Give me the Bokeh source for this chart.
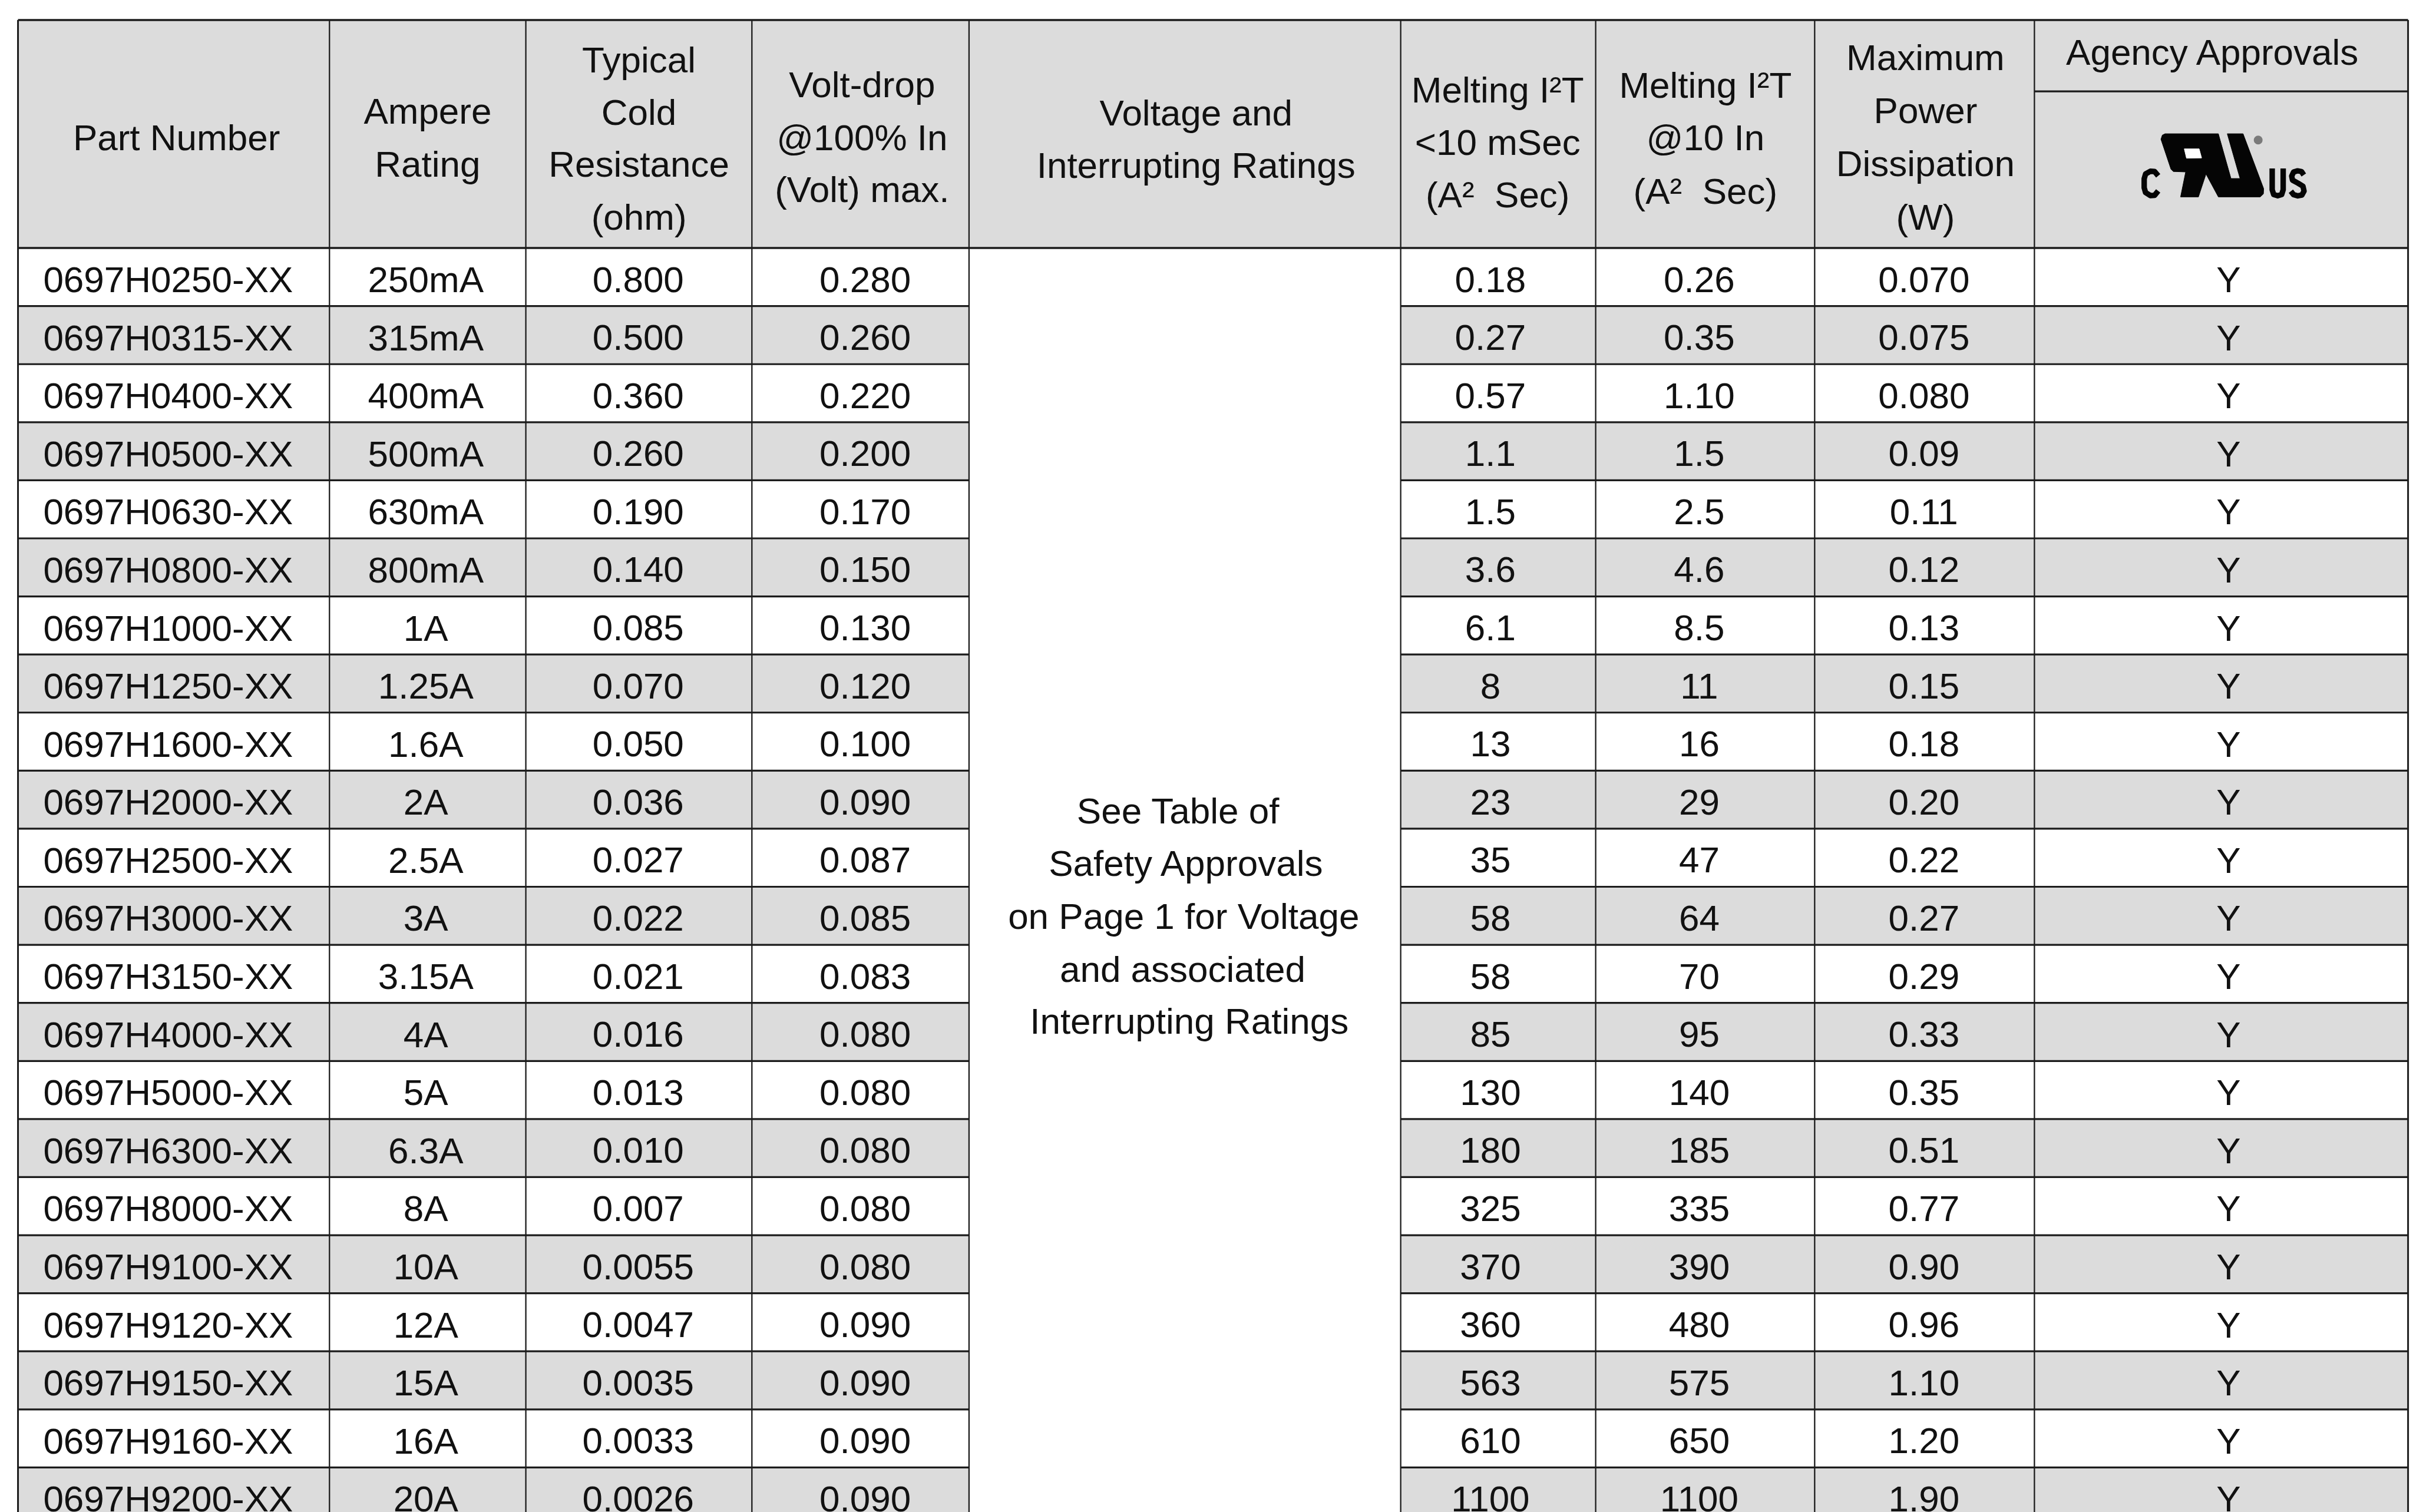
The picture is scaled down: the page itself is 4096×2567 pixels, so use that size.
import numpy as np
from bokeh.plotting import figure
from bokeh.models import Range1d, ColumnDataSource
from bokeh.core.properties import value
from bokeh.embed import file_html
from bokeh.resources import INLINE

# ---------------- data ----------------
part_numbers = ["0697H0250-XX", "0697H0315-XX", "0697H0400-XX", "0697H0500-XX",
                "0697H0630-XX", "0697H0800-XX", "0697H1000-XX", "0697H1250-XX",
                "0697H1600-XX", "0697H2000-XX", "0697H2500-XX", "0697H3000-XX",
                "0697H3150-XX", "0697H4000-XX", "0697H5000-XX", "0697H6300-XX",
                "0697H8000-XX", "0697H9100-XX", "0697H9120-XX", "0697H9150-XX",
                "0697H9160-XX", "0697H9200-XX"]
ampere_ratings = ["250mA", "315mA", "400mA", "500mA", "630mA", "800mA", "1A", "1.25A",
                  "1.6A", "2A", "2.5A", "3A", "3.15A", "4A", "5A", "6.3A", "8A", "10A",
                  "12A", "15A", "16A", "20A"]
cold_resistance = ["0.800", "0.500", "0.360", "0.260", "0.190", "0.140", "0.085", "0.070",
                   "0.050", "0.036", "0.027", "0.022", "0.021", "0.016", "0.013", "0.010",
                   "0.007", "0.0055", "0.0047", "0.0035", "0.0033", "0.0026"]
volt_drop = ["0.280", "0.260", "0.220", "0.200", "0.170", "0.150", "0.130", "0.120",
             "0.100", "0.090", "0.087", "0.085", "0.083", "0.080", "0.080", "0.080",
             "0.080", "0.080", "0.090", "0.090", "0.090", "0.090"]
melting_10ms = ["0.18", "0.27", "0.57", "1.1", "1.5", "3.6", "6.1", "8", "13", "23", "35",
                "58", "58", "85", "130", "180", "325", "370", "360", "563", "610", "1100"]
melting_10in = ["0.26", "0.35", "1.10", "1.5", "2.5", "4.6", "8.5", "11", "16", "29", "47",
                "64", "70", "95", "140", "185", "335", "390", "480", "575", "650", "1100"]
max_power = ["0.070", "0.075", "0.080", "0.09", "0.11", "0.12", "0.13", "0.15", "0.18",
             "0.20", "0.22", "0.27", "0.29", "0.33", "0.35", "0.51", "0.77", "0.90",
             "0.96", "1.10", "1.20", "1.90"]
agency = ["Y"] * 22

header_labels = [
    ["Part Number"],
    ["Ampere", "Rating"],
    ["Typical", "Cold", "Resistance", "(ohm)"],
    ["Volt-drop", "@100% In", "(Volt) max."],
    ["Voltage and", "Interrupting Ratings"],
    ["Melting I\u00b2T", "<10 mSec", "(A\u00b2 \u00a0Sec)"],
    ["Melting I\u00b2T", "@10 In", "(A\u00b2 \u00a0Sec)"],
    ["Maximum", "Power", "Dissipation", "(W)"],
    ["Agency Approvals"],
]
voltage_note = ["See Table of", "Safety Approvals", "on Page 1 for Voltage",
                "and associated", "Interrupting Ratings"]

# ---------------- layout (in reference-view units) ----------------
S = 4096 / 1568.0
W, H = 4096, 2567
FONT = value("Liberation Sans")
FS = "62px"
TXT = "#111111"
GRAY = "#dcdcdc"
LINE = "#1c1c1c"
CAP_HALF = 8.7   # half cap-height, in view units

col_edges = [11.5, 213.9, 341.5, 488.4, 629.5, 910.0, 1036.7, 1179.0, 1321.8, 1564.6]
TOP, HEAD_BOT, SUB_Y, ROW_H = 12.8, 161.0, 59.2, 37.74
LEFT, RIGHT = col_edges[0], col_edges[-1]
VL, VR = col_edges[4], col_edges[5]

p = figure(width=W, height=H,
           x_range=Range1d(0, W / S),
           y_range=Range1d(H / S, 0),
           output_backend="svg", toolbar_location=None, min_border=0,
           x_axis_location=None, y_axis_location=None,
           background_fill_color="white", border_fill_color="white")
p.grid.visible = False
p.outline_line_color = None

n = len(part_numbers)
idx = np.arange(n)
row_top = HEAD_BOT + ROW_H * idx
row_bot = row_top + ROW_H
odd = idx % 2 == 1

# header background
p.quad(left=[LEFT], right=[RIGHT], top=[TOP], bottom=[HEAD_BOT],
       fill_color=GRAY, line_color=None)
# shaded rows (not through the merged voltage cell)
for l, r in [(LEFT, VL), (VR, RIGHT)]:
    p.quad(left=[l] * int(odd.sum()), right=[r] * int(odd.sum()),
           top=list(row_top[odd]), bottom=list(row_bot[odd]),
           fill_color=GRAY, line_color=None)

# horizontal lines
bottom_all = HEAD_BOT + ROW_H * n
p.segment(x0=[LEFT, LEFT, col_edges[8]], x1=[RIGHT, RIGHT, RIGHT],
          y0=[TOP, HEAD_BOT, SUB_Y], y1=[TOP, HEAD_BOT, SUB_Y],
          line_color=LINE, line_width=3.4)
ys = list(row_bot)
p.segment(x0=[LEFT] * n + [VR] * n, x1=[VL] * n + [RIGHT] * n,
          y0=ys + ys, y1=ys + ys, line_color=LINE, line_width=3.2)
# vertical lines
inner = col_edges[1:-1]
p.segment(x0=inner, x1=inner, y0=[TOP] * len(inner), y1=[bottom_all] * len(inner),
          line_color=LINE, line_width=2.3)
p.segment(x0=[LEFT, RIGHT], x1=[LEFT, RIGHT], y0=[TOP, TOP], y1=[bottom_all] * 2,
          line_color=LINE, line_width=3.0)

# header texts (baselines from the reference; drawn by cap centre)
head_x = [114.5, 277.7, 415.0, 560.0, 777.0, 973.0, 1108.0, 1251.0, 1438.0]
head_base = [[98.0], [80.7, 115.3], [47.2, 81.4, 115.3, 149.4], [63.4, 98.0, 131.5],
             [81.9, 116.0], [66.9, 101.0, 135.0], [63.9, 98.0, 132.7],
             [46.0, 80.1, 114.7, 149.4], [42.4]]
hx, hy, ht = [], [], []
for lines, x, bases in zip(header_labels, head_x, head_base):
    for t, b in zip(lines, bases):
        hx.append(x); hy.append(b - CAP_HALF); ht.append(t)
p.text(x=hx, y=hy, text=ht, text_align="center", text_baseline="alphabetic",
       text_font=FONT, text_font_size=FS, text_color=TXT)

# merged voltage note
note_x = [765.5, 771.0, 769.0, 768.3, 772.6]
note_base = [535.5, 569.5, 603.8, 638.3, 672.0]
p.text(x=note_x, y=[b - CAP_HALF for b in note_base], text=voltage_note,
       text_align="center", text_baseline="alphabetic", text_font=FONT,
       text_font_size=FS, text_color=TXT)

# data texts
text_y = list(row_top + ROW_H / 2 + 1.6)
columns = [(part_numbers, 27.9, "left"), (ampere_ratings, 276.5, "center"),
           (cold_resistance, 414.5, "center"), (volt_drop, 562.0, "center"),
           (melting_10ms, 968.3, "center"), (melting_10in, 1104.0, "center"),
           (max_power, 1250.0, "center"), (agency, 1448.0, "center")]
for vals, x, align in columns:
    src = ColumnDataSource(dict(x=[x] * n, y=text_y, t=vals))
    p.text(x="x", y="y", text="t", source=src, text_align=align,
           text_baseline="alphabetic", text_font=FONT, text_font_size=FS,
           text_color=TXT)

# ---------------- cULus logo (drawn shape) ----------------
OX, OY, K = 1378.85, 66.93, 0.08925


def tr(pts):
    return [OX + a * K for a, b in pts], [OY + b * K for a, b in pts]


mark = [(282, 262), (292, 232), (312, 222), (700, 222), (792, 548), (858, 548),
        (765, 222), (880, 222), (1030, 622), (1028, 660), (1005, 682), (700, 682),
        (610, 515), (555, 682), (425, 682), (462, 500), (372, 497), (355, 480)]
mx, my = tr(mark)
p.patch(mx, my, fill_color="#050505", line_color="#050505", line_width=1)
hole = [(452, 332), (560, 332), (578, 398), (468, 400)]
hx2, hy2 = tr(hole)
p.patch(hx2, hy2, fill_color="white", line_color="white", line_width=1)
rx, ry = tr([(990, 268)])
p.scatter(rx, ry, size=15, marker="circle", fill_color="#7a7a7a", line_color=None)

letters = [
    [(262, 528), (236, 497), (205, 495), (170, 515), (160, 550), (160, 615),
     (170, 650), (205, 672), (236, 670), (262, 638)],
    [(1092, 475), (1092, 630), (1103, 665), (1132, 673), (1161, 665), (1172, 630), (1172, 475)],
    [(1322, 522), (1305, 497), (1277, 492), (1248, 500), (1234, 530), (1240, 560),
     (1280, 582), (1316, 604), (1324, 640), (1308, 668), (1278, 674), (1248, 666), (1228, 640)],
]
for pts in letters:
    lx, ly = tr(pts)
    p.line(lx, ly, line_color="#050505", line_width=9.3, line_join="round", line_cap="butt")

open("out.html", "w").write(file_html(p, INLINE))
